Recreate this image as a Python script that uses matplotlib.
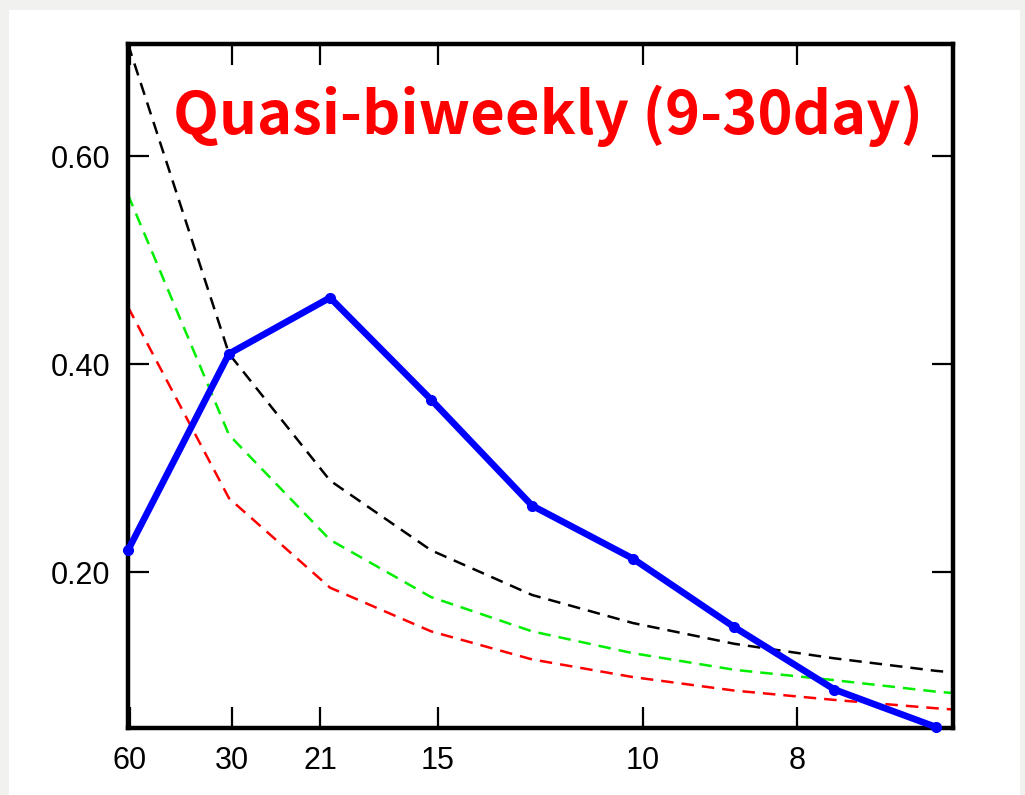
import numpy as np
import matplotlib.pyplot as plt
from matplotlib.patches import Rectangle

# periods (days) of the spectral estimates
period = [61.0, 30.5, 20.33, 15.25, 12.2, 10.17, 8.71, 7.63, 6.78]
period_noise = [61.0, 30.5, 20.33, 15.25, 12.2, 10.17, 8.71, 7.63, 6.78, 6.1]

spectrum = [0.221, 0.410, 0.464, 0.366, 0.264, 0.213, 0.147, 0.087, 0.051]
noise_black = [0.708, 0.410, 0.288, 0.221, 0.178, 0.151, 0.131, 0.117, 0.105, 0.096]
noise_green = [0.563, 0.332, 0.231, 0.176, 0.143, 0.122, 0.106, 0.096, 0.085, 0.077]
noise_red = [0.455, 0.271, 0.185, 0.143, 0.116, 0.099, 0.086, 0.077, 0.069, 0.062]

tick_periods = [60, 30, 21, 15, 10, 8]
tick_labels = ["60", "30", "21", "15", "10", "8"]
y_ticks = [0.20, 0.40, 0.60]

freq = 1.0 / np.array(period)
freq_n = 1.0 / np.array(period_noise)

plt.rcParams['font.family'] = ['Liberation Sans', 'DejaVu Sans']

fig = plt.figure(figsize=(10.25, 7.95), dpi=100)
fig.patch.set_facecolor("#f1f1ef")
fig.patches.append(Rectangle((9 / 1025, 0), 1011 / 1025, 1 - 10 / 795,
                             transform=fig.transFigure, facecolor="white",
                             edgecolor="none", zorder=-10))

ax = fig.add_axes([128 / 1025, 1 - 728 / 795, (953 - 128) / 1025, (728 - 44) / 795])
ax.set_facecolor("white")

dash = (5.0, 3.2)
ax.plot(freq_n, noise_black, color="black", lw=1.8, dashes=dash)
ax.plot(freq_n, noise_green, color="#00ee00", lw=1.8, dashes=dash)
ax.plot(freq_n, noise_red, color="#ff0000", lw=1.8, dashes=dash)
ax.plot(freq, spectrum, color="#0000ff", lw=4.8, marker="o", markersize=7,
        clip_on=False, zorder=5)

ax.set_xlim(1 / 61.0, 0.1503)
ax.set_ylim(0.05, 0.708)

ax.set_xticks([1.0 / p for p in tick_periods])
ax.set_xticklabels(tick_labels)
ax.set_yticks(y_ticks)
ax.set_yticklabels([f"{v:.2f}" for v in y_ticks])

ax.tick_params(direction="in", length=15, width=1.6, top=True, right=True,
               labelsize=22, pad=13)
for s in ax.spines.values():
    s.set_linewidth(3.2)

ax.text(0.055, 0.895, "Quasi-biweekly (9-30day)", transform=ax.transAxes,
        color="#ff0000", fontsize=43, fontweight="bold",
        family=["Noto Sans CJK SC", "DejaVu Sans"],
        va="center", ha="left")

fig.savefig("out.png", dpi=100)
